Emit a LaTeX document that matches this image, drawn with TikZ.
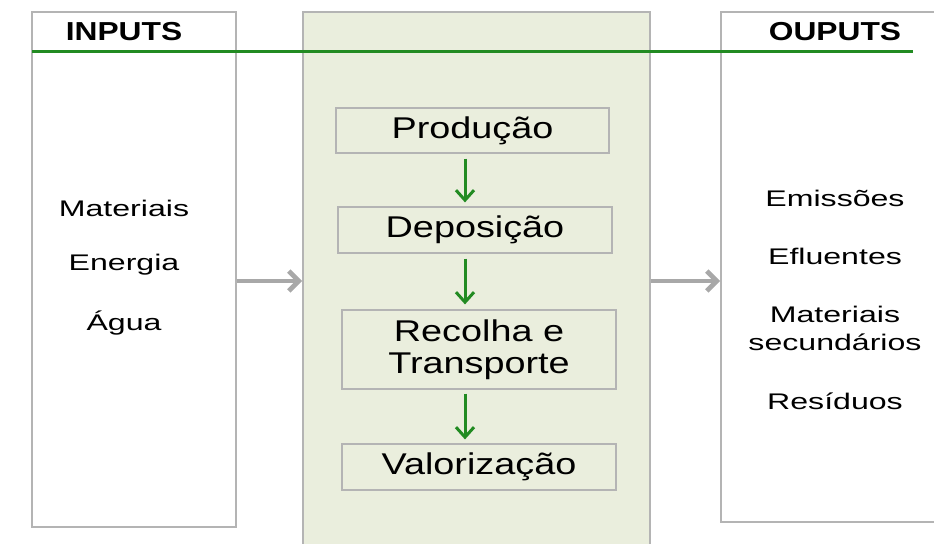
\documentclass[tikz,border=0pt]{standalone}
\usepackage{fontspec}
\setmainfont{Liberation Sans}
\newfontfamily\stagefont[FakeStretch=1.26]{Liberation Sans}
\newfontfamily\itemfont[FakeStretch=1.42]{Liberation Sans}
\newfontfamily\headfont[FakeStretch=1.22]{Liberation Sans}
\usetikzlibrary{arrows.meta, positioning}
\definecolor{panelgray}{RGB}{180,180,180}
\definecolor{panelfill}{RGB}{234,238,221}
\definecolor{flowgreen}{RGB}{34,139,34}
\definecolor{arrowgray}{RGB}{168,168,168}
\tikzset{
    panel/.style={
        rectangle,
        draw=panelgray,
        line width=0.8pt,
        fill=white
    },
    stagepanel/.style={
        panel,
        fill=panelfill
    },
    stepbox/.style={
        rectangle,
        minimum width=137pt,
        minimum height=23pt,
        align=center,
        draw=panelgray,
        line width=0.6pt,
        font=\stagefont\fontsize{15}{16}\selectfont
    },
    itemtext/.style={
        align=center,
        font=\itemfont\fontsize{11.3}{14}\selectfont
    },
    headtext/.style={
        font=\headfont\fontsize{13}{15}\selectfont\bfseries
    },
    flowarrow/.style={
        draw=flowgreen,
        line width=1.5pt,
        -{Straight Barb[length=5pt,width=9pt]}
    },
    grayarrow/.style={
        draw=arrowgray,
        line width=2.4pt,
        -{Straight Barb[length=5pt,width=10pt]}
    }
}
\begin{document}
\begin{tikzpicture}[x=0.5pt,y=-0.5pt]
\useasboundingbox (0,0) rectangle (934,543);

% Panels
\node (inbox) [panel, minimum width=102pt, minimum height=257.5pt] at (134,269.5) {};
\node (stage) [stagepanel, minimum width=173.5pt, minimum height=268pt] at (476.5,280) {};
\node (outbox) [panel, minimum width=112pt, minimum height=255pt] at (833,267) {};

% Header line and titles
\coordinate (lineL) at (32,51);
\coordinate (lineR) at (913,51);
\draw[flowgreen, line width=1.5pt] (lineL) -- (lineR);
\node (inputs) [headtext] at (124,32) {INPUTS};
\node (ouputs) [headtext] at (835,32) {OUPUTS};

% Stages
\node (producao) [stepbox, minimum width=136.5pt, minimum height=22.5pt] at (472.5,130.5) {Produção};
\node (deposicao) [stepbox] at (475,230) {Deposição};
\node (recolha) [stepbox, minimum height=39.5pt] at (479,349.5) {Recolha e\\Transporte};
\node (valorizacao) [stepbox] at (479,467) {Valorização};

% Inputs
\node (materiais) [itemtext] at (124,208) {Materiais};
\node (energia) [itemtext] at (124,265) {Energia};
\node (agua) [itemtext] at (124,323) {Água};

% Outputs
\node (emissoes) [itemtext] at (835,198) {Emissões};
\node (efluentes) [itemtext] at (835,256) {Efluentes};
\node (secundarios) [itemtext] at (835,328) {Materiais\\secundários};
\node (residuos) [itemtext] at (835,401) {Resíduos};

% Arrows
\coordinate (col) at (465,0);
\coordinate (midrow) at (0,281);
\draw[flowarrow, shorten <=2.5pt, shorten >=2pt] (producao.south -| col) -- (deposicao.north -| col);
\draw[flowarrow, shorten <=2.5pt, shorten >=2.5pt] (deposicao.south -| col) -- (recolha.north -| col);
\draw[flowarrow, shorten <=2pt, shorten >=2pt] (recolha.south -| col) -- (valorizacao.north -| col);
\draw[grayarrow] (inbox.east |- midrow) -- (stage.west |- midrow);
\draw[grayarrow] (stage.east |- midrow) -- (outbox.west |- midrow);

\end{tikzpicture}
\end{document}
